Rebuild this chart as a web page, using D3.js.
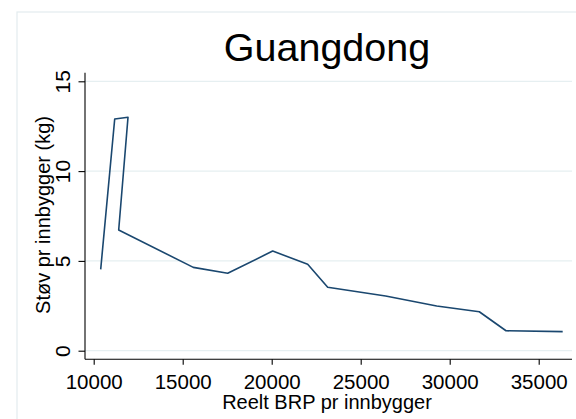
<!DOCTYPE html>
<html>
<head>
<meta charset="utf-8">
<script src="https://cdn.jsdelivr.net/npm/d3@7/dist/d3.min.js"></script>
<style>
  html, body { margin: 0; padding: 0; background: #ffffff; }
  svg { display: block; font-family: Arial, "Liberation Sans", Helvetica, sans-serif; }
</style>
</head>
<body>
<svg id="chart" width="576" height="419"></svg>
<script>
// Real GDP per capita (x) against dust emissions per capita in kg (y), Guangdong
const gdpPerCapita = [10393, 11180, 11927, 11404, 15596, 17528, 20056, 22022, 23146, 26400, 29270, 31663, 33163, 36348];
const dustPerCapita = [4.53, 12.9, 13.0, 6.72, 4.64, 4.31, 5.55, 4.81, 3.53, 3.05, 2.49, 2.17, 1.11, 1.06];
const xTicks = [10000, 15000, 20000, 25000, 30000, 35000];
const yTicks = [0, 5, 10, 15];
const titleText = "Guangdong";
const xTitle = "Reelt BRP pr innbygger";
const yTitle = "Støv pr innbygger (kg)";

const svg = d3.select("#chart");

// plot box
const box = { left: 85, right: 572, top: 72.7, bottom: 359.3 };

const x = d3.scaleLinear().domain([10000, 35000]).range([93.7, 538.7]);
const y = d3.scaleLinear().domain([0, 15]).range([350.7, 81.3]);

// outer graph-region border
svg.append("rect")
  .attr("x", 17).attr("y", 12)
  .attr("width", 600).attr("height", 450)
  .attr("fill", "#ffffff")
  .attr("stroke", "#e3ecee").attr("stroke-width", 1.2);

// horizontal grid lines
svg.append("g").selectAll("line").data(yTicks).join("line")
  .attr("x1", box.left).attr("x2", box.right)
  .attr("y1", d => y(d)).attr("y2", d => y(d))
  .attr("stroke", "#e6eff1").attr("stroke-width", 1.2);

// y axis
const yAxis = svg.append("g")
  .attr("transform", `translate(${box.left},0)`)
  .call(d3.axisLeft(y).tickValues(yTicks).tickSize(6.5).tickFormat(d3.format("d")));
yAxis.select(".domain").remove();
yAxis.append("line")
  .attr("x1", 0).attr("x2", 0).attr("y1", box.top).attr("y2", box.bottom)
  .attr("stroke", "#000").attr("stroke-width", 1.1);
yAxis.selectAll(".tick line").attr("stroke", "#000").attr("stroke-width", 1.1);
yAxis.selectAll(".tick text")
  .attr("x", null).attr("dy", null)
  .attr("transform", "translate(-15,0) rotate(-90)")
  .attr("text-anchor", "middle")
  .attr("fill", "#000")
  .style("font-size", "21px")
  .style("font-family", "Arial, 'Liberation Sans', sans-serif");

// x axis
const xAxis = svg.append("g")
  .attr("transform", `translate(0,${box.bottom})`)
  .call(d3.axisBottom(x).tickValues(xTicks).tickSize(5.5).tickFormat(d3.format("d")));
xAxis.select(".domain").remove();
xAxis.append("line")
  .attr("x1", box.left).attr("x2", box.right).attr("y1", 0).attr("y2", 0)
  .attr("stroke", "#000").attr("stroke-width", 1.1);
xAxis.selectAll(".tick line").attr("stroke", "#000").attr("stroke-width", 1.1);
xAxis.selectAll(".tick text")
  .attr("y", 29.5).attr("dy", null)
  .attr("text-anchor", "middle")
  .attr("fill", "#000")
  .style("font-size", "20.5px")
  .style("font-family", "Arial, 'Liberation Sans', sans-serif");

// data line
const pts = gdpPerCapita.map((g, i) => [g, dustPerCapita[i]]);
svg.append("path")
  .datum(pts)
  .attr("fill", "none")
  .attr("stroke", "#1a476f")
  .attr("stroke-width", 1.6)
  .attr("stroke-linejoin", "round")
  .attr("d", d3.line().x(d => x(d[0])).y(d => y(d[1])));

// axis titles
svg.append("text")
  .attr("x", 327).attr("y", 408.5)
  .attr("text-anchor", "middle")
  .style("font-size", "20px")
  .text(xTitle);

svg.append("text")
  .attr("transform", "translate(49.5,215) rotate(-90)")
  .attr("text-anchor", "middle")
  .style("font-size", "20px")
  .text(yTitle);

// chart title
svg.append("text")
  .attr("x", 327).attr("y", 60.5)
  .attr("text-anchor", "middle")
  .style("font-size", "39.5px")
  .text(titleText);
</script>
</body>
</html>
